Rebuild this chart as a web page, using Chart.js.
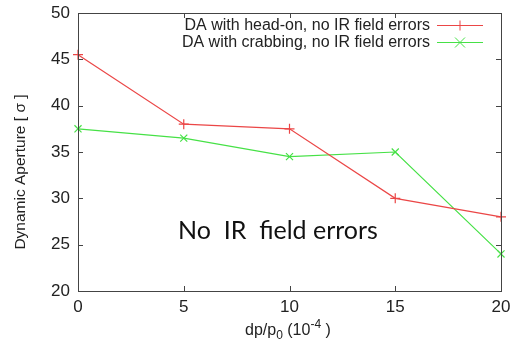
<!DOCTYPE html>
<html>
<head>
<meta charset="utf-8">
<script src="https://cdn.jsdelivr.net/npm/chart.js@4.4.0/dist/chart.umd.min.js"></script>
<style>
  html, body { margin: 0; padding: 0; background: #fff; }
  #wrap { width: 514px; height: 346px; }
</style>
</head>
<body>
<div id="wrap"><canvas id="c" width="514" height="346"></canvas></div>
<script>
const xTicks = [0, 5, 10, 15, 20];
const yTicks = [20, 25, 30, 35, 40, 45, 50];
const headOn = [45.5, 38, 37.5, 30, 28];
const crabbing = [37.5, 36.5, 34.5, 35, 24];
const seriesLabels = ["DA with head-on, no IR field errors", "DA with crabbing, no IR field errors"];

const RED = "rgb(235,70,70)";
const GREEN = "rgb(70,225,70)";
const AXIS = "#444";
const FONT = "'Liberation Sans', Arial, sans-serif";

const toPts = (ys) => xTicks.map((x, i) => ({ x, y: ys[i] }));

// gnuplot style frame: box + inward ticks on all four sides, legend top right
const framePlugin = {
  id: "frame",
  afterDraw(chart) {
    const { ctx, chartArea: a, scales } = chart;
    ctx.save();
    ctx.strokeStyle = AXIS;
    ctx.lineWidth = 1;
    ctx.strokeRect(a.left + 0.5, a.top + 0.5, a.right - a.left, a.bottom - a.top);
    ctx.beginPath();
    const len = 5;
    xTicks.forEach((v) => {
      const px = Math.round(scales.x.getPixelForValue(v)) + 0.5;
      ctx.moveTo(px, a.bottom); ctx.lineTo(px, a.bottom - len);
      ctx.moveTo(px, a.top); ctx.lineTo(px, a.top + len);
    });
    yTicks.forEach((v) => {
      const py = Math.round(scales.y.getPixelForValue(v)) + 0.5;
      ctx.moveTo(a.left, py); ctx.lineTo(a.left + len, py);
      ctx.moveTo(a.right, py); ctx.lineTo(a.right - len, py);
    });
    ctx.stroke();

    // legend
    ctx.font = "16px " + FONT;
    ctx.textAlign = "right";
    ctx.textBaseline = "middle";
    const rows = [25.5, 42.5];
    chart.data.datasets.forEach((ds, i) => {
      const y = rows[i];
      ctx.fillStyle = "#222";
      ctx.fillText(ds.label, 430, y);
      ctx.strokeStyle = ds.borderColor;
      ctx.lineWidth = 1;
      ctx.beginPath();
      ctx.moveTo(437, y); ctx.lineTo(483, y);
      ctx.stroke();
      const cx = 460, r = 5;
      ctx.beginPath();
      if (ds.pointStyle === "cross") {
        ctx.moveTo(cx, y - r); ctx.lineTo(cx, y + r);
      } else {
        ctx.moveTo(cx - r, y - r); ctx.lineTo(cx + r, y + r);
        ctx.moveTo(cx - r, y + r); ctx.lineTo(cx + r, y - r);
      }
      ctx.stroke();
    });

    // axis titles
    ctx.fillStyle = "#222";
    ctx.textBaseline = "alphabetic";
    ctx.textAlign = "left";
    let x = 245;
    const base = 335;
    const part = (txt, size, dy) => {
      ctx.font = size + "px " + FONT;
      ctx.fillText(txt, x, base + dy);
      x += ctx.measureText(txt).width;
    };
    part("dp/p", 16, 0); part("0", 12, 4); part(" (10", 16, 0); part("-4", 12, -7); part(" )", 16, 0);

    ctx.save();
    ctx.translate(25, 172);
    ctx.rotate(-Math.PI / 2);
    ctx.textAlign = "center";
    ctx.font = "15.5px " + FONT;
    ctx.fillText("Dynamic Aperture [ \u03C3 ]", 0, 0);
    ctx.restore();

    // annotation text
    ctx.font = "25px Lato, 'Open Sans', sans-serif";
    ctx.textAlign = "left";
    ctx.textBaseline = "middle";
    ctx.fillStyle = "#111";
    ctx.fillText("No  IR  field errors", 178, 231);
    ctx.restore();
  }
};

new Chart(document.getElementById("c"), {
  type: "line",
  data: {
    datasets: [
      { label: seriesLabels[0], data: toPts(headOn), borderColor: RED, backgroundColor: RED,
        borderWidth: 1.2, pointStyle: "cross", pointRadius: 5, pointBorderWidth: 1.2, tension: 0 },
      { label: seriesLabels[1], data: toPts(crabbing), borderColor: GREEN, backgroundColor: GREEN,
        borderWidth: 1.2, pointStyle: "crossRot", pointRadius: 5, pointBorderWidth: 1.2, tension: 0 }
    ]
  },
  options: {
    responsive: false,
    animation: false,
    clip: false,
    layout: { padding: { top: 13, right: 13, left: 0, bottom: 0 } },
    plugins: { legend: { display: false }, tooltip: { enabled: false } },
    scales: {
      x: {
        type: "linear", min: 0, max: 20,
        afterBuildTicks: (s) => { s.ticks = xTicks.map((v) => ({ value: v })); },
        afterFit: (s) => { s.height = 55; s.paddingLeft = 0; s.paddingRight = 0; },
        grid: { display: false, drawTicks: false },
        border: { display: false },
        ticks: { color: "#222", font: { size: 17, family: FONT }, padding: 6, maxRotation: 0 }
      },
      y: {
        min: 20, max: 50,
        afterBuildTicks: (s) => { s.ticks = yTicks.map((v) => ({ value: v })); },
        afterFit: (s) => { s.width = 78; s.paddingTop = 0; s.paddingBottom = 0; },
        grid: { display: false, drawTicks: false },
        border: { display: false },
        ticks: { color: "#222", font: { size: 17, family: FONT }, padding: 8 }
      }
    }
  },
  plugins: [framePlugin]
});
</script>
</body>
</html>
